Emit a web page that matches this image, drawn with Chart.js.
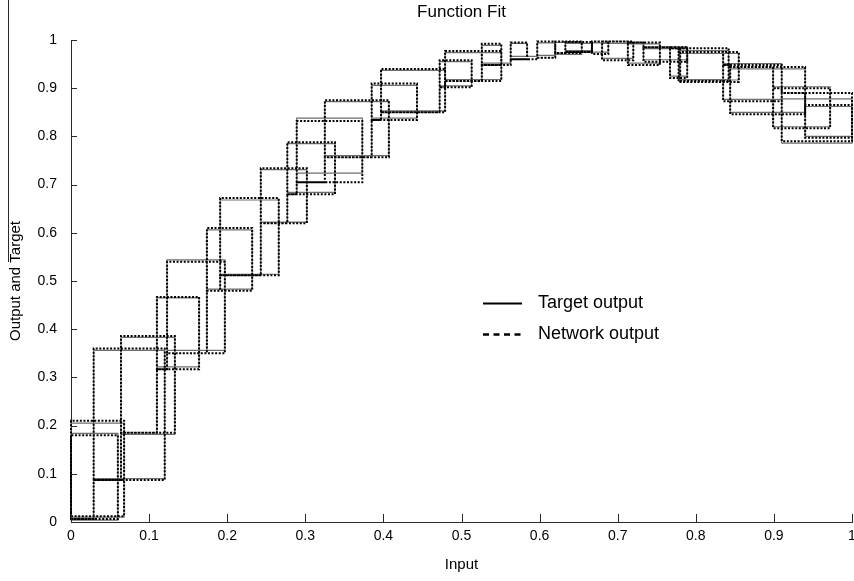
<!DOCTYPE html>
<html>
<head>
<meta charset="utf-8">
<script src="https://cdn.jsdelivr.net/npm/chart.js@4.4.1/dist/chart.umd.min.js"></script>
<style>
  html, body { margin: 0; padding: 0; background: #fff; }
  #wrap { width: 854px; height: 581px; position: relative; }
</style>
</head>
<body>
<div id="wrap"><canvas id="fitChart" width="854" height="581"></canvas></div>
<script>
// Each group of three points traces one box of the stairs plot (input order is unsorted)
const inputX = [
  0.000, 0.068, 0.000,
  0.000, 0.060, 0.000,
  0.029, 0.120, 0.029,
  0.064, 0.133, 0.064,
  0.110, 0.164, 0.110,
  0.123, 0.197, 0.123,
  0.174, 0.232, 0.174,
  0.191, 0.266, 0.191,
  0.243, 0.302, 0.243,
  0.277, 0.338, 0.277,
  0.289, 0.373, 0.289,
  0.325, 0.407, 0.325,
  0.385, 0.443, 0.385,
  0.397, 0.479, 0.397,
  0.472, 0.513, 0.472,
  0.479, 0.551, 0.479,
  0.526, 0.551, 0.526,
  0.563, 0.584, 0.563,
  0.597, 0.620, 0.597,
  0.620, 0.654, 0.620,
  0.633, 0.667, 0.633,
  0.667, 0.688, 0.667,
  0.680, 0.720, 0.680,
  0.713, 0.754, 0.713,
  0.733, 0.789, 0.733,
  0.767, 0.789, 0.767,
  0.780, 0.842, 0.780,
  0.778, 0.855, 0.778,
  0.835, 0.910, 0.835,
  0.844, 0.940, 0.844,
  0.899, 0.972, 0.899,
  0.910, 1.000, 0.910,
  0.940, 1.000, 0.940
];

const targetY = [
  0.010, 0.205, 0.010,
  0.004, 0.184, 0.004,
  0.090, 0.356, 0.090,
  0.182, 0.383, 0.182,
  0.322, 0.465, 0.322,
  0.356, 0.544, 0.356,
  0.483, 0.606, 0.483,
  0.514, 0.668, 0.514,
  0.622, 0.731, 0.622,
  0.684, 0.785, 0.684,
  0.724, 0.838, 0.724,
  0.760, 0.872, 0.760,
  0.838, 0.906, 0.838,
  0.853, 0.937, 0.853,
  0.905, 0.955, 0.905,
  0.918, 0.974, 0.918,
  0.952, 0.989, 0.952,
  0.966, 0.993, 0.966,
  0.968, 0.994, 0.968,
  0.970, 0.995, 0.970,
  0.978, 0.993, 0.978,
  0.994, 0.975, 0.994,
  0.993, 0.962, 0.993,
  0.992, 0.952, 0.992,
  0.982, 0.959, 0.982,
  0.986, 0.925, 0.986,
  0.978, 0.918, 0.978,
  0.972, 0.917, 0.972,
  0.951, 0.877, 0.951,
  0.940, 0.850, 0.940,
  0.903, 0.820, 0.903,
  0.878, 0.786, 0.878,
  0.862, 0.800, 0.862
];

const networkY = [
  0.012, 0.210, 0.012,
  0.006, 0.180, 0.006,
  0.087, 0.360, 0.087,
  0.185, 0.386, 0.185,
  0.317, 0.467, 0.317,
  0.350, 0.540, 0.350,
  0.480, 0.610, 0.480,
  0.512, 0.672, 0.512,
  0.620, 0.734, 0.620,
  0.680, 0.788, 0.680,
  0.705, 0.832, 0.705,
  0.757, 0.875, 0.757,
  0.834, 0.910, 0.834,
  0.850, 0.940, 0.850,
  0.902, 0.958, 0.902,
  0.915, 0.977, 0.915,
  0.948, 0.992, 0.948,
  0.960, 0.995, 0.960,
  0.963, 0.997, 0.963,
  0.973, 0.997, 0.973,
  0.975, 0.996, 0.975,
  0.997, 0.971, 0.997,
  0.997, 0.958, 0.997,
  0.995, 0.948, 0.995,
  0.985, 0.955, 0.985,
  0.983, 0.921, 0.983,
  0.983, 0.915, 0.983,
  0.975, 0.913, 0.975,
  0.948, 0.873, 0.948,
  0.944, 0.846, 0.944,
  0.900, 0.817, 0.900,
  0.890, 0.790, 0.890,
  0.865, 0.797, 0.865
];

const xTickLabels = ['0', '0.1', '0.2', '0.3', '0.4', '0.5', '0.6', '0.7', '0.8', '0.9', '1'];
const yTickLabels = ['0', '0.1', '0.2', '0.3', '0.4', '0.5', '0.6', '0.7', '0.8', '0.9', '1'];
const seriesNames = ['Target output', 'Network output'];

const FONT = '"Liberation Sans", Arial, Helvetica, sans-serif';
Chart.defaults.font.family = FONT;
Chart.defaults.color = '#000';

// inward tick marks, title, legend box drawn on top
const fitDecor = {
  id: 'fitDecor',
  afterDraw(chart) {
    const { ctx, chartArea: a, scales } = chart;
    const xs = scales.x, ys = scales.y;
    ctx.save();
    ctx.strokeStyle = '#2a2a2a';
    ctx.lineWidth = 1;
    ctx.beginPath();
    xs.ticks.forEach(t => {
      const px = Math.round(xs.getPixelForValue(t.value)) + 0.5;
      ctx.moveTo(px, a.bottom);
      ctx.lineTo(px, a.bottom - 8);
    });
    ys.ticks.forEach(t => {
      const py = Math.round(ys.getPixelForValue(t.value)) + 0.5;
      ctx.moveTo(a.left, py);
      ctx.lineTo(a.left + 6, py);
    });
    // stray frame line at the far left
    ctx.moveTo(8.5, 0);
    ctx.lineTo(8.5, 262);
    ctx.stroke();

    ctx.fillStyle = '#000';
    ctx.textAlign = 'center';
    ctx.textBaseline = 'middle';
    ctx.font = '17px ' + FONT;
    ctx.fillText('Function Fit', (a.left + a.right) / 2, 12);

    // legend
    ctx.textAlign = 'left';
    ctx.font = '18px ' + FONT;
    ctx.lineWidth = 2;
    ctx.strokeStyle = '#000';
    ctx.beginPath();
    ctx.moveTo(483, 303.5);
    ctx.lineTo(522, 303.5);
    ctx.stroke();
    ctx.fillText(seriesNames[0], 538, 303);
    ctx.setLineDash([6, 4.5]);
    ctx.lineWidth = 2.5;
    ctx.beginPath();
    ctx.moveTo(483, 334.5);
    ctx.lineTo(521, 334.5);
    ctx.stroke();
    ctx.setLineDash([]);
    ctx.fillText(seriesNames[1], 538, 334);
    ctx.restore();
  }
};

const ctx = document.getElementById('fitChart').getContext('2d');

new Chart(ctx, {
  type: 'line',
  data: {
    datasets: [
      {
        label: seriesNames[1],
        data: inputX.map((x, i) => ({ x: x, y: networkY[i] })),
        stepped: true,
        borderColor: '#000',
        borderWidth: 2,
        borderDash: [2, 1.6],
        pointRadius: 0,
        fill: false,
        clip: 6,
        order: 0
      },
      {
        label: seriesNames[0],
        data: inputX.map((x, i) => ({ x: x, y: targetY[i] })),
        stepped: true,
        borderColor: '#6e6e6e',
        borderWidth: 1.2,
        pointRadius: 0,
        fill: false,
        clip: 6,
        order: 1
      }
    ]
  },
  options: {
    responsive: false,
    animation: false,
    devicePixelRatio: 1,
    layout: { padding: { top: 40, right: 2, left: 0, bottom: 0 } },
    scales: {
      x: {
        type: 'linear',
        min: 0,
        max: 1,
        afterFit: s => { s.height = 59; s.paddingLeft = 0; s.paddingRight = 0; },
        grid: { display: true, drawOnChartArea: false, drawTicks: false },
        border: { display: true, color: '#2a2a2a', width: 1 },
        ticks: {
          stepSize: 0.1,
          autoSkip: false,
          maxRotation: 0,
          padding: 6,
          font: { size: 14 },
          callback: (v, i) => xTickLabels[i]
        },
        title: { display: true, text: 'Input', font: { size: 15 }, padding: { top: 0, bottom: 7 } }
      },
      y: {
        type: 'linear',
        min: 0,
        max: 1,
        afterFit: s => { s.width = 71; },
        grid: { display: true, drawOnChartArea: false, drawTicks: false },
        border: { display: true, color: '#2a2a2a', width: 1 },
        ticks: {
          stepSize: 0.1,
          autoSkip: false,
          padding: 14,
          font: { size: 14 },
          callback: (v, i) => yTickLabels[i]
        },
        title: { display: true, text: 'Output and Target', font: { size: 15 }, padding: { top: 7, bottom: 0 } }
      }
    },
    plugins: {
      legend: { display: false },
      tooltip: { enabled: false },
      title: { display: false }
    }
  },
  plugins: [fitDecor]
});
</script>
</body>
</html>
